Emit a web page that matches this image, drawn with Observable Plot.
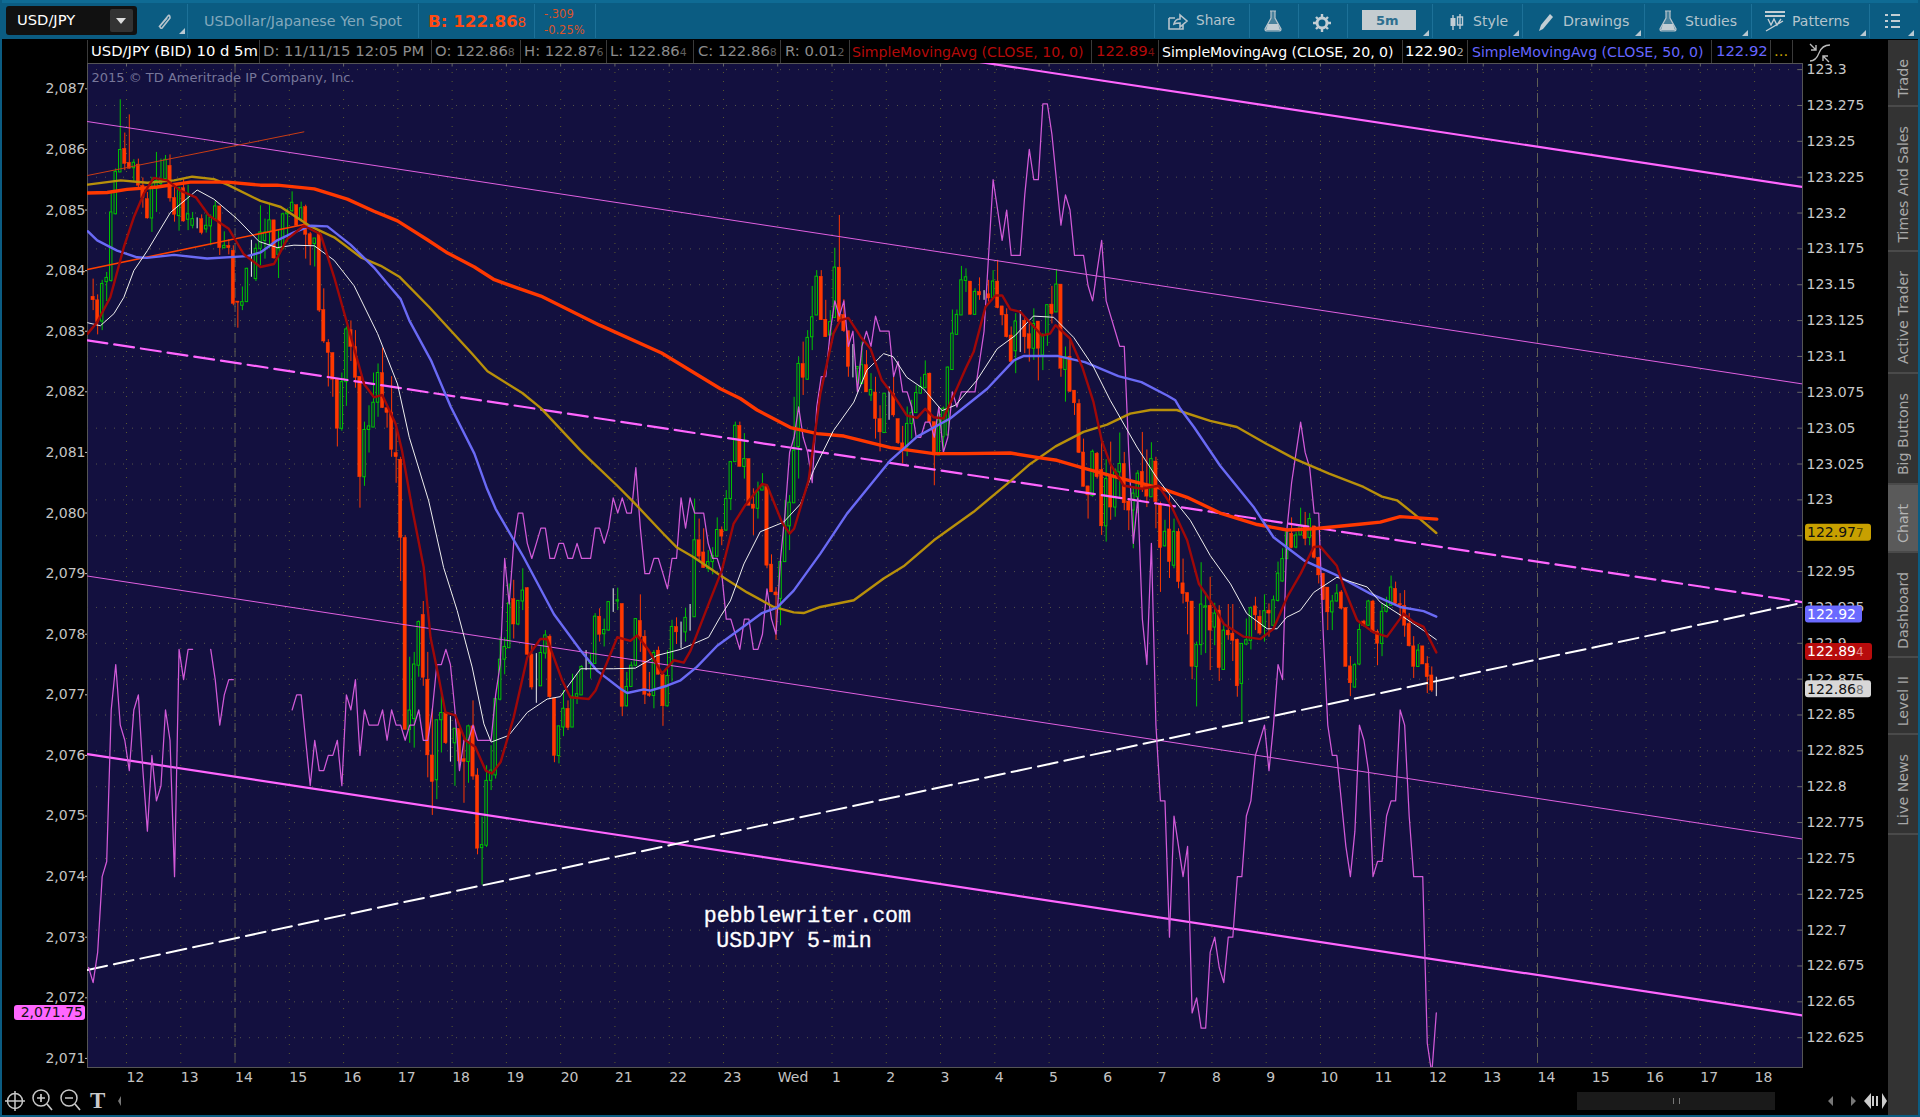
<!DOCTYPE html>
<html><head><meta charset="utf-8">
<script src="https://cdn.jsdelivr.net/npm/d3@7"></script>
<script src="https://cdn.jsdelivr.net/npm/@observablehq/plot@0.6"></script>
<style>
html,body{margin:0;padding:0;background:#000;width:1920px;height:1117px;overflow:hidden;font-family:"DejaVu Sans",sans-serif}
#page{position:relative;width:1920px;height:1117px;background:#000;overflow:hidden}
#plotHost{position:absolute;left:0;top:40px;width:1920px;height:1077px}
#plotHost svg{display:block;overflow:visible}
.t{position:absolute;white-space:nowrap;line-height:1}
.d{position:absolute;width:1px;background:#1d7198}
.c{position:absolute;top:40px;height:23px;width:1px;background:#3a3a3a}
.h{position:absolute;top:44px;font-size:14.8px;white-space:nowrap;line-height:1;color:#8b8b8b}
.h small{font-size:11px;color:#5f5f5f}
.tab{position:absolute;left:1888px;width:30px;display:flex;align-items:center;justify-content:center;padding-top:11px;border-bottom:2px solid #4a4a4a;box-sizing:border-box;background:#333}
.tab span{writing-mode:vertical-rl;transform:rotate(180deg);font-size:14.2px;color:#a8a8a8;white-space:nowrap}
.corner{position:absolute;width:0;height:0;border-left:6px solid transparent;border-bottom:6px solid #b9c9d2}
</style></head>
<body><div id="page">
<div style="position:absolute;left:0;top:0;width:1920px;height:39px;background:#0b5c82;border-top:3px solid #0f6b94;box-sizing:border-box"></div>
<div style="position:absolute;left:0;top:0;width:2px;height:1117px;background:#0b5c82"></div>
<div style="position:absolute;left:1918px;top:0;width:2px;height:1117px;background:#0b5c82"></div>
<div style="position:absolute;left:0;top:1115px;width:1920px;height:2px;background:#0b5c82"></div>

<div style="position:absolute;left:6px;top:6px;width:131px;height:29px;background:#111;border-radius:3px"></div>
<div style="position:absolute;left:110px;top:9px;width:23px;height:23px;background:#333;border-radius:2px"></div>
<div class="t" style="left:17px;top:13px;font-size:14.7px;color:#fff">USD/JPY</div>
<div style="position:absolute;left:116px;top:18px;border-left:5px solid transparent;border-right:5px solid transparent;border-top:6px solid #ddd"></div>
<svg style="position:absolute;left:155px;top:12px" width="18" height="18"><path d="M4 15 L13 4 Q15 2 15 6 L7 16 Q5 17 5 14 L12 6" fill="none" stroke="#b7c4cc" stroke-width="1.6"/></svg>
<div class="corner" style="left:179px;top:28px"></div>
<div class="d" style="left:187px;top:4px;height:34px"></div>
<div class="t" style="left:204px;top:14px;font-size:14.3px;color:#84a9bc">USDollar/Japanese Yen Spot</div>
<div class="d" style="left:418px;top:4px;height:34px"></div>
<div class="t" style="left:428px;top:13px;font-size:16.7px;font-weight:bold;color:#ff4a12">B: 122.86<span style="font-size:13.5px;font-weight:normal">8</span></div>
<div class="d" style="left:534px;top:4px;height:34px"></div>
<div class="t" style="left:544px;top:9px;font-size:11.5px;color:#d9532a">-.309</div>
<div class="t" style="left:544px;top:25px;font-size:11.5px;color:#d9532a">-0.25%</div>
<div class="d" style="left:595px;top:4px;height:34px"></div>

<div class="d" style="left:1154px;top:4px;height:34px"></div>
<svg style="position:absolute;left:1167px;top:13px" width="22" height="18"><path d="M2 5 H8 M2 5 V16 H16 V11 M7 11 Q8 6 13 6 V2 L20 8 L13 14 V10 Q9 10 7 11Z" fill="none" stroke="#b7c4cc" stroke-width="1.6"/></svg>
<div class="t" style="left:1196px;top:14px;font-size:13.6px;color:#b4c4cd">Share</div>
<div class="d" style="left:1249px;top:4px;height:34px"></div>
<svg style="position:absolute;left:1263px;top:10px" width="20" height="22"><path d="M7 1 H13 M8 1 V8 L2 19 Q2 21 4 21 H16 Q18 21 18 19 L12 8 V1" fill="#b7c4cc" stroke="#b7c4cc" stroke-width="1.2" fill-opacity=".35"/><path d="M5 14 H15 L17 20 H3Z" fill="#c3ced4"/></svg>
<div class="d" style="left:1298px;top:4px;height:34px"></div>
<svg style="position:absolute;left:1312px;top:13px" width="20" height="20"><circle cx="10" cy="10" r="5" fill="none" stroke="#c3ced4" stroke-width="3"/><path d="M10 1V4M10 16V19M1 10H4M16 10H19M4 4L6 6M14 14L16 16M16 4L14 6M4 16L6 14" stroke="#c3ced4" stroke-width="2.4"/></svg>
<div class="d" style="left:1347px;top:4px;height:34px"></div>
<div style="position:absolute;left:1362px;top:10px;width:54px;height:20px;background:#c4ccd0"></div>
<div class="t" style="left:1376px;top:14px;font-size:13px;font-weight:bold;color:#2f6f8f">5m</div>
<div class="corner" style="left:1423px;top:30px"></div>
<div class="d" style="left:1432px;top:4px;height:34px"></div>
<svg style="position:absolute;left:1449px;top:13px" width="16" height="18"><path d="M4 2V17M11 1V16" stroke="#c3ced4" stroke-width="1.4"/><rect x="1.5" y="5" width="5" height="8" fill="#c3ced4"/><rect x="8.5" y="4" width="5" height="8" fill="none" stroke="#c3ced4" stroke-width="1.4"/></svg>
<div class="t" style="left:1473px;top:14px;font-size:14px;color:#b4c4cd">Style</div>
<div class="corner" style="left:1513px;top:30px"></div>
<div class="d" style="left:1522px;top:4px;height:34px"></div>
<svg style="position:absolute;left:1537px;top:12px" width="18" height="20"><path d="M2 19 L4 13 L13 2 L16 5 L6 17Z" fill="#c3ced4"/></svg>
<div class="t" style="left:1563px;top:14px;font-size:14.2px;color:#b4c4cd">Drawings</div>
<div class="corner" style="left:1635px;top:30px"></div>
<div class="d" style="left:1644px;top:4px;height:34px"></div>
<svg style="position:absolute;left:1658px;top:10px" width="20" height="22"><path d="M7 1 H13 M8 1 V8 L2 19 Q2 21 4 21 H16 Q18 21 18 19 L12 8 V1" fill="#b7c4cc" stroke="#b7c4cc" stroke-width="1.2" fill-opacity=".35"/><path d="M5 14 H15 L17 20 H3Z" fill="#c3ced4"/></svg>
<div class="t" style="left:1685px;top:14px;font-size:14px;color:#b4c4cd">Studies</div>
<div class="corner" style="left:1742px;top:30px"></div>
<div class="d" style="left:1751px;top:4px;height:34px"></div>
<svg style="position:absolute;left:1764px;top:10px" width="22" height="22"><path d="M1 2H21M1 6H21" stroke="#c3ced4" stroke-width="2"/><path d="M4 9 L7 15 L10 9 L13 15 L17 9 M2 21 L19 11" fill="none" stroke="#c3ced4" stroke-width="1.4"/></svg>
<div class="t" style="left:1792px;top:14px;font-size:14px;color:#b4c4cd">Patterns</div>
<div class="corner" style="left:1860px;top:30px"></div>
<div class="d" style="left:1869px;top:4px;height:34px"></div>
<svg style="position:absolute;left:1885px;top:13px" width="16" height="16"><path d="M0 2H3M6 2H15M0 8H3M6 8H15M0 14H3M6 14H15" stroke="#c3ced4" stroke-width="2"/></svg>
<div class="corner" style="left:1908px;top:30px"></div>

<div id="plotHost"></div>

<div class="h" style="left:91px;color:#fff">USD/JPY (BID) 10 d 5m</div>
<div class="c" style="left:87px"></div><div class="c" style="left:259px"></div>
<div class="h" style="left:263px">D: 11/11/15 12:05 PM</div><div class="c" style="left:431px"></div>
<div class="h" style="left:435px">O: 122.86<small>8</small></div><div class="c" style="left:520px"></div>
<div class="h" style="left:524px">H: 122.87<small>6</small></div><div class="c" style="left:606px"></div>
<div class="h" style="left:610px">L: 122.86<small>4</small></div><div class="c" style="left:693px"></div>
<div class="h" style="left:698px">C: 122.86<small>8</small></div><div class="c" style="left:780px"></div>
<div class="h" style="left:785px">R: 0.01<small>2</small></div><div class="c" style="left:849px"></div>
<div class="h" style="left:852px;color:#b50a0a;font-size:14.1px;top:45px">SimpleMovingAvg (CLOSE, 10, 0)</div><div class="c" style="left:1091px"></div>
<div class="h" style="left:1096px;color:#b50a0a">122.89<small style="color:#7a1010">4</small></div><div class="c" style="left:1158px"></div>
<div class="h" style="left:1162px;color:#fff;font-size:14.1px;top:45px">SimpleMovingAvg (CLOSE, 20, 0)</div><div class="c" style="left:1402px"></div>
<div class="h" style="left:1405px;color:#fff">122.90<small style="color:#aaa">2</small></div><div class="c" style="left:1467px"></div>
<div class="h" style="left:1472px;color:#6666ff;font-size:14.1px;top:45px">SimpleMovingAvg (CLOSE, 50, 0)</div><div class="c" style="left:1711px"></div>
<div class="h" style="left:1716px;color:#6666ff">122.92</div><div class="c" style="left:1770px"></div>
<div class="h" style="left:1774px;color:#c8a000">...</div><div class="c" style="left:1792px"></div>
<svg style="position:absolute;left:1808px;top:42px" width="24" height="22"><path d="M2 19 Q8 19 11 11 Q14 3 22 3" fill="none" stroke="#bbb" stroke-width="1.3"/><path d="M2 2 L8 8 M8 3V8H3 M21 20 L15 14 M15 19V14H20" fill="none" stroke="#bbb" stroke-width="1.4"/></svg>

<div class="tab" style="top:40px;height:67px"><span>Trade</span></div>
<div class="tab" style="top:107px;height:145px"><span>Times And Sales</span></div>
<div class="tab" style="top:252px;height:122px"><span>Active Trader</span></div>
<div class="tab" style="top:374px;height:111px"><span>Big Buttons</span></div>
<div class="tab" style="top:485px;height:68px;background:#5a5a5a"><span style="color:#b5b5b5">Chart</span></div>
<div class="tab" style="top:553px;height:105px"><span>Dashboard</span></div>
<div class="tab" style="top:658px;height:77px"><span>Level II</span></div>
<div class="tab" style="top:735px;height:100px"><span>Live News</span></div>
<div style="position:absolute;left:1888px;top:835px;width:30px;height:280px;background:#333"></div>

<svg style="position:absolute;left:0;top:1085px" width="140" height="30">
 <g fill="none" stroke="#c8c8c8" stroke-width="1.5"><circle cx="15" cy="16" r="7.5"/><path d="M15 6V26M5 16H25"/>
 <circle cx="41" cy="13" r="8"/><path d="M47 19L52 25M37 13H45M41 9V17" stroke-width="1.7"/>
 <circle cx="69" cy="13" r="8"/><path d="M75 19L80 25M65 13H73" stroke-width="1.7"/></g>
 <text x="90" y="23" font-family="Liberation Serif" font-weight="bold" font-size="23" fill="#c8c8c8">T</text>
 <path d="M121 11V21L118 16Z" fill="#777"/>
</svg>
<div style="position:absolute;left:1577px;top:1092px;width:198px;height:18px;background:#1a1a1a"></div>
<div style="position:absolute;left:1673px;top:1098px;width:7px;height:6px;border-left:1px solid #777;border-right:1px solid #777;box-sizing:border-box"></div>
<svg style="position:absolute;left:1825px;top:1090px" width="62" height="22">
 <path d="M8 6V16L3 11Z M26 6V16L31 11Z" fill="#777"/>
 <path d="M46 3V19L39 11Z M57 3V19L62 11Z" fill="#ccc"/><path d="M48 6V16M52 6V16" stroke="#ccc" stroke-width="2"/>
</svg>
</div>
<script>
// Candles: price minus 2000, one entry per 5-minute bar
const priceBase = 2000;
const candleOpen = [
83.57,83.51,83.16,83.81,83.83,84.93,85.62,86.01,85.78,85.69,
85.75,85.40,85.18,84.86,85.35,85.43,85.51,85.73,85.20,84.90,
85.36,84.84,84.74,84.80,84.85,84.68,84.73,84.85,85.06,84.37,
84.41,84.33,83.49,83.42,83.48,84.03,83.86,84.36,84.49,84.63,
84.83,84.26,84.36,84.93,84.98,85.08,84.84,85.05,84.60,84.44,
84.60,83.35,82.81,82.64,82.20,81.39,82.16,83.02,82.74,82.25,
80.59,81.37,81.41,81.82,82.31,81.73,81.66,80.99,80.88,79.59,
76.42,76.60,77.48,78.32,77.25,76.00,75.59,76.58,76.70,76.22,
76.20,76.44,75.94,75.89,76.48,75.67,74.47,74.51,75.58,75.67,
76.92,77.58,77.77,78.58,78.16,78.54,78.76,77.66,77.15,77.14,
77.68,77.96,76.94,75.99,76.46,76.77,76.46,76.96,76.99,77.53,
77.51,77.51,78.29,78.00,78.06,78.54,78.54,78.50,76.81,77.13,
77.48,78.22,77.96,77.01,76.98,77.73,77.33,76.81,77.52,78.12,
78.03,78.03,78.28,78.28,79.55,79.35,79.08,79.19,79.28,79.72,
79.71,80.23,80.84,81.44,80.76,80.89,80.14,80.07,80.37,80.43,
79.15,78.69,78.58,79.19,79.78,80.16,81.09,82.46,82.20,82.90,
83.26,83.90,83.19,82.93,83.22,84.05,83.27,83.00,82.41,82.38,
82.13,82.44,81.94,81.99,81.55,81.32,81.87,81.97,81.55,81.15,
81.09,81.47,81.65,81.97,82.06,82.30,81.50,80.95,81.25,81.28,
82.36,82.94,83.26,83.83,83.82,83.27,83.65,83.59,83.61,83.55,
83.82,83.41,83.27,82.93,82.67,83.17,83.17,82.95,82.71,83.16,
82.60,82.93,83.44,83.31,83.77,82.36,82.58,82.02,81.80,81.00,
80.44,80.28,80.98,80.71,79.78,80.62,80.09,80.67,80.81,80.19,
80.04,80.26,80.68,80.43,80.26,80.85,80.15,79.45,79.73,79.13,
79.69,78.84,78.68,78.54,77.46,77.82,78.44,78.47,78.11,78.39,
77.41,78.06,78.01,77.91,77.18,77.83,77.89,78.46,78.29,78.12,
78.39,78.14,78.55,78.87,79.24,79.66,79.43,79.63,79.79,79.59,
79.78,79.26,79.00,78.77,78.36,78.54,78.69,78.43,77.47,77.12,
77.50,78.21,78.14,78.54,78.04,77.84,78.37,78.47,78.75,78.50,
78.47,78.17,77.80,77.46,77.80,77.51,77.32,77.08];
const candleHigh = [
83.86,83.60,83.84,83.97,85.27,85.68,86.82,86.27,86.57,85.83,
85.84,85.53,85.29,85.54,85.95,85.84,85.90,85.91,85.43,85.36,
85.51,85.41,84.96,84.87,84.92,84.92,84.92,85.14,85.06,84.64,
84.51,84.41,83.49,83.73,84.04,84.50,84.44,85.07,84.85,85.10,
84.83,84.66,84.95,85.02,85.30,85.08,85.13,85.08,84.63,84.53,
84.66,83.70,82.86,82.64,82.20,82.31,83.07,83.17,83.01,82.25,
81.50,81.77,82.31,82.46,82.72,81.74,82.25,81.39,80.92,79.63,
77.62,77.70,78.22,78.54,77.70,76.77,76.58,77.02,76.71,76.64,
76.44,76.44,76.30,76.50,76.90,75.78,74.98,75.83,76.16,76.93,
77.95,77.94,78.83,78.89,78.55,79.08,78.77,77.81,77.68,77.81,
78.06,77.99,76.94,76.48,77.07,76.90,77.34,77.34,77.48,77.73,
77.68,78.34,78.42,78.25,78.54,78.75,78.76,78.50,77.37,77.54,
78.25,78.65,78.06,77.37,77.73,77.79,77.35,77.73,78.23,78.27,
78.20,78.43,78.49,80.23,79.90,79.74,79.38,79.43,79.92,79.77,
80.37,80.85,81.50,81.50,81.31,80.89,80.40,80.51,80.65,80.45,
79.31,78.77,79.24,80.21,80.29,81.91,82.57,82.82,83.01,83.74,
84.00,84.00,83.51,83.34,84.37,84.91,83.52,83.00,82.78,82.41,
82.82,82.68,82.30,82.24,81.77,81.97,82.08,82.30,81.55,81.43,
81.75,81.86,82.10,82.24,82.51,82.31,81.50,81.68,81.75,82.41,
83.35,83.35,84.07,84.03,83.82,83.70,83.88,83.67,83.84,84.00,
84.17,83.41,83.37,83.07,83.29,83.34,83.23,83.12,83.37,83.16,
82.96,83.43,83.74,84.02,83.77,82.74,82.85,82.02,81.87,81.22,
80.44,81.04,81.00,81.20,80.88,81.17,80.73,81.32,81.00,80.21,
80.43,80.70,81.33,81.04,81.16,80.92,80.18,79.88,80.29,79.90,
79.74,79.24,78.68,78.54,77.87,79.18,78.69,78.94,78.51,78.47,
78.14,78.49,78.49,77.92,77.84,78.25,78.45,78.61,78.39,78.65,
78.50,78.63,79.19,79.41,79.71,79.92,79.68,80.08,80.01,79.99,
79.78,79.27,79.00,78.77,78.64,78.82,78.72,78.44,77.63,77.52,
78.17,78.23,78.56,78.56,78.07,78.50,78.61,78.96,78.86,78.67,
78.72,78.34,77.96,77.83,77.80,77.63,77.46,77.29];
const candleLow = [
83.34,82.94,83.01,83.49,83.81,84.92,85.62,85.65,85.68,85.47,
85.36,85.03,84.85,84.63,84.96,85.37,85.48,85.13,84.80,84.65,
84.80,84.66,84.69,84.69,84.59,84.62,84.41,84.84,84.25,84.36,
84.26,83.42,83.05,83.34,83.48,83.89,83.82,84.08,84.19,84.36,
84.19,83.87,84.34,84.47,84.96,84.74,84.80,84.19,84.08,84.06,
83.31,82.80,82.08,81.91,81.09,81.35,81.76,82.50,82.06,80.08,
80.44,80.99,81.41,81.58,81.73,81.40,80.92,80.49,78.87,76.42,
76.20,76.12,77.29,77.14,75.63,75.01,75.27,76.04,76.18,75.89,
75.49,75.75,75.21,75.54,75.59,74.36,73.86,74.48,75.42,75.61,
76.90,77.33,77.76,77.92,78.14,78.39,77.65,77.08,76.86,77.14,
77.59,76.93,75.88,75.86,76.31,76.41,76.46,76.84,76.99,77.40,
77.26,77.51,77.87,77.79,78.05,78.36,78.39,76.64,76.80,77.13,
77.46,77.70,76.84,76.96,76.77,77.33,76.48,76.80,77.21,77.83,
77.76,77.87,78.05,78.28,79.21,79.09,79.02,78.98,79.27,79.46,
79.70,80.04,80.84,80.76,80.56,80.12,79.63,79.90,80.37,79.08,
78.69,77.90,78.14,79.19,79.38,80.16,80.56,81.94,82.19,82.68,
83.26,83.18,82.90,82.93,83.22,83.15,82.98,82.24,82.23,82.05,
82.13,81.99,81.84,81.22,81.01,81.32,81.53,81.58,81.13,80.81,
80.93,81.22,81.64,81.96,82.05,81.46,80.45,80.95,81.03,81.28,
82.35,82.93,83.26,83.64,83.27,83.26,83.51,83.51,83.48,83.53,
83.37,83.09,82.89,82.49,82.30,82.65,82.63,82.49,82.52,82.18,
82.35,82.75,83.12,83.31,82.24,81.83,81.99,81.61,80.98,80.43,
79.90,80.26,80.56,79.63,79.52,79.88,79.93,80.26,80.04,79.71,
79.41,79.99,80.34,80.09,80.26,79.74,78.69,79.44,78.92,79.08,
78.75,78.50,77.99,77.25,76.80,77.65,77.68,77.40,77.81,77.22,
77.41,77.90,77.55,76.96,76.55,77.81,77.74,78.06,77.98,77.87,
77.95,78.12,78.53,78.86,79.23,79.41,79.41,79.63,79.46,79.46,
79.24,78.83,78.56,78.06,78.06,78.53,78.40,77.46,76.97,77.11,
77.48,78.12,78.13,78.02,77.48,77.63,78.35,78.46,78.49,78.28,
77.95,77.79,77.27,77.45,77.50,77.02,77.04,76.97];
const candleClose = [
83.51,83.15,83.78,83.88,84.96,85.63,85.99,85.76,85.68,85.78,
85.40,85.20,84.86,85.37,85.48,85.48,85.83,85.19,84.92,85.36,
84.81,84.93,84.85,84.80,84.62,84.74,84.87,85.06,84.37,84.41,
84.37,83.45,83.47,83.48,84.03,84.03,84.36,84.63,84.63,84.83,
84.20,84.36,84.93,84.96,85.12,84.74,85.03,84.59,84.42,84.53,
83.34,82.83,82.64,82.20,81.39,82.16,83.03,82.74,82.23,80.59,
81.37,81.43,81.82,82.31,81.73,81.65,81.04,80.92,79.59,76.42,
76.74,77.50,78.20,77.28,76.00,75.56,76.58,76.70,76.20,76.22,
76.44,75.90,75.89,76.48,75.65,74.46,74.52,75.58,75.75,76.93,
77.58,77.79,78.51,78.16,78.55,78.72,77.66,77.12,77.15,77.69,
77.98,76.96,75.99,76.48,76.77,76.45,76.97,77.01,77.46,77.53,
77.53,78.29,77.99,78.07,78.53,78.54,78.56,76.80,77.13,77.48,
78.25,77.95,77.00,76.98,77.69,77.33,76.81,77.31,78.12,78.03,
78.03,78.27,78.28,79.55,79.28,79.09,79.19,79.29,79.72,79.61,
80.23,80.84,81.44,80.76,80.89,80.12,80.07,80.34,80.44,79.13,
78.69,78.64,79.19,79.79,80.17,81.03,82.46,82.23,82.89,83.23,
83.90,83.18,82.90,83.15,84.05,83.15,83.00,82.41,82.41,82.41,
82.44,81.99,82.03,81.55,81.33,81.97,81.87,81.61,81.15,81.03,
81.47,81.65,81.98,82.08,82.28,81.50,80.95,81.53,81.72,82.40,
82.96,83.27,83.84,83.89,83.27,83.65,83.59,83.59,83.54,83.82,
83.38,83.26,82.90,82.49,83.16,83.17,82.90,82.71,83.12,82.71,
82.93,83.43,83.28,83.77,82.38,82.57,82.00,81.81,80.99,80.43,
80.29,81.01,80.59,79.78,80.56,80.09,80.70,80.81,80.16,80.04,
80.32,80.65,80.40,80.27,80.89,80.18,79.42,79.69,79.19,79.69,
78.86,78.66,78.53,77.46,77.82,78.49,78.46,78.06,78.34,77.44,
78.06,77.98,77.89,77.14,77.84,77.90,78.43,78.31,78.01,78.38,
78.34,78.56,79.00,79.24,79.68,79.42,79.63,79.79,79.57,79.90,
79.26,78.97,78.56,78.36,78.54,78.67,78.42,77.46,77.19,77.49,
78.07,78.14,78.54,78.03,77.84,78.37,78.47,78.77,78.50,78.47,
78.14,77.80,77.46,77.73,77.50,77.29,77.07,77.08];

// Pink comparison symbol (reads on the left axis), starting one bar before the first candle
const pinkStart = -1;
const pinkValues = [
72.5,72.25,72.75,74,74.25,76.75,77.5,76.5,76.25,75.75,76.75,77,75.75,74.75,76,75.25,75.5,76.75,76.25,74,77.75,77.25,77.75,77.75,
null,null,null,
77.75,77.25,76.5,77,77.25,77.25,
null,null,null,null,null,null,null,null,null,null,null,null,
76.75,77,77,76.25,75.5,76.25,75.75,75.75,76,76,76.25,75.5,77,76.75,77.25,76,76.75,76.5,76.5,76.5,76.75,76.25,76.75,76.5,76.5,76.25,76.5,76.5,76.75,76.25,76.25,76.75,77.5,77.5,77.75,77.5,76.75,75.75,76.25,76.25,76.5,76.25,76.25,76.25,76.25,77,77.5,79.25,78.5,79.5,80,80,79.5,79.25,79.5,79.75,79.75,79.25,79.25,79.5,79.5,79.25,79.25,79.5,79.25,79.25,79.25,79.75,79.75,79.5,79.75,80.25,80,80.25,80,80,80.75,79.75,79,79,79.25,79.25,79,78.75,79.25,79.25,80.25,79.75,80.25,80,80,80,79.5,79.25,79.25,
79,78.25,78.25,78,77.75,78.25,78.25,77.75,77.75,78,78.75,78.25,78,79.25,80,81,81.25,81.75,81.25,81,80.5,81.75,82.25,82.25,83,83.5,83.25,83.5,82.75,83,82,82.75,83,82.75,83.25,83,83,83,82.25,82.5,82,82,81.75,81.25,81.25,81.5,81.5,81.25,81.75,81,81.25,82,81.75,82,82,82,82,82.5,83,
84.25,85.5,85,84.5,85,84.25,84.25,84.25,85.25,86,85.5,85.5,86.75,86.75,86.25,85.5,84.75,85.25,85,84.25,84.25,84.25,83.75,83.5,84,84.5,83.5,83.25,83,82.75,82.75,81,79.5,80.25,78.25,77.5,79.5,76.5,
75.25,75.25,73,75,74.5,74,74.5,71.75,72,71.5,71.5,72.75,73,72.5,72.25,73,73,74,74,75,75.25,76,76.25,76.5,75.75,76.5,77.5,77.25,79.75,80.5,81,81.5,81,80.75,80,80,78,76.5,76,76,
75.25,74.5,74,74.75,76.5,76.25,75.75,74,74.25,74.25,75,75.25,75.25,76.75,76.5,75,74,74,74,71.25,70.75,71.75];

// Moving averages, read at sampled bars
const sma10Bars = [-1.2,0.9,3.8,6.8,9,11.2,13.4,16.4,19.3,22.7,25.6,30,33.3,37,40,42.9,46.6,50.3,53.3,56.2,59.9,62.1,63.9,66.9,68.3,70.5,73.1,74.6,76.4,77.9,80.1,82.3,84.5,86.8,88.2,90.1,93,96,98.9,100.4,103.7,105.5,109.6,111.1,115.9,118.8,120.3,122.9,125.8,128.4,130.6,132.1,136.1,139,141.6,144.2,147.9,149,152.3,154,155,158.2,160.8,163.7,165.2,167,169.7,171.9,174.4,177,179.9,182.2,184,185.9,188,190.3,192.9,194.7,197.3,199.5,201,202.8,205,207.2,209.8,211.6,212.8,216,218.7,221.2,223,224.9,227.9,231.9,235.6,238.2,241.9,244.5,247.8,250,254.4,258.1,261,264,267,269.9,271.3,275,276.5,279.5,283.1,286.1,289.8,292,294.2,297];
const sma10Values = [82.96,83.15,83.56,84.39,84.88,85.27,85.53,85.49,85.32,85.21,84.91,84.69,84.27,84.06,84.11,84.52,84.74,84.60,83.89,83.12,82.13,81.91,81.95,81.47,81.03,80.09,79.1,77.95,77.29,76.71,76.66,76.25,76.14,75.75,75.70,75.89,76.63,77.62,77.92,77.92,77.24,76.96,76.93,77.07,77.95,77.89,77.98,77.73,77.35,77.57,77.53,77.73,78.5,79.05,79.82,80.13,80.48,80.46,79.85,79.66,79.74,80.54,81.97,82.96,83.18,83.22,82.91,82.71,82.19,81.94,81.61,81.57,81.72,81.58,81.56,81.94,82.38,82.66,83.40,83.59,83.59,83.36,83.32,83.14,82.93,82.96,83.10,82.88,82.41,81.83,81.20,80.81,80.45,80.40,80.45,80.15,79.55,78.83,78.47,78.17,77.96,77.92,78.09,78.61,79.0,79.44,79.45,79.13,78.78,78.23,78.03,77.96,78.34,78.20,78.12,77.70];
const sma20Bars = [-1.2,1.6,4.6,6.8,9,12,17.1,23,26.7,31.9,36.7,40.7,44.4,48.9,53.3,57.7,62.9,67.3,69.9,74.2,77.5,80.5,83.8,86.4,88,91.9,96,100.4,103.3,107.8,111.4,115.1,119.9,124.7,129.9,136.1,138.7,140.9,143.9,147.5,152.7,156.4,159.3,163.7,168.2,171.1,174.8,176.9,179.9,183.6,187.7,190.7,195.4,199.9,203.9,207.9,212.4,216.8,221.2,224.9,230.8,235.2,238.2,242.6,247,251.5,255.1,259.6,261.8,263.9,266.9,269.9,275,281.7,284.6,289.8,294.2,297];
const sma20Values = [83.14,83.09,83.29,83.56,84.0,84.33,84.96,85.33,85.18,84.85,84.48,84.38,84.42,84.41,84.17,83.75,82.96,82.13,81.25,80.2,79.1,78.39,77.46,76.52,76.22,76.33,76.71,76.93,76.97,77.43,77.43,77.43,77.44,77.65,77.75,77.95,78.29,78.55,79.16,79.69,79.85,80.15,80.70,81.36,81.83,82.36,82.63,82.58,82.24,82.05,81.69,81.78,82.19,82.71,82.93,83.25,83.23,82.90,82.41,81.86,81.09,80.58,80.29,79.88,79.30,78.83,78.34,78.09,78.09,78.28,78.39,78.69,78.94,78.78,78.53,78.28,78.06,77.91];
const sma50Bars = [-1.2,0.9,5.3,9.7,11.9,17.9,25.2,34.1,37,40.7,44.4,48.1,51.8,56.9,62.1,65.8,68,69.9,74.7,79.1,84.3,87.1,89,95.2,101.9,107.8,111.4,116.6,118.1,121.8,123.2,126.9,129.9,133.5,138,144.6,147.9,151.2,154.9,160.8,166.7,176.3,182.2,189.5,197.7,203.6,205.7,213.4,219.3,226.7,231.8,237.5,239.3,240.4,243.4,249.2,256.6,261,267.7,275,282.4,289,294.2,297];
const sma50Values = [84.65,84.50,84.33,84.22,84.21,84.26,84.20,84.24,84.30,84.50,84.63,84.74,84.73,84.43,84.05,83.72,83.53,83.18,82.52,81.75,80.98,80.40,80.07,79.27,78.33,77.73,77.40,77.10,77.03,77.09,77.07,77.15,77.24,77.46,77.81,78.17,78.35,78.44,78.72,79.33,79.99,80.87,81.26,81.56,82.05,82.52,82.59,82.59,82.49,82.26,82.16,81.94,81.86,81.72,81.42,80.78,80.10,79.6,79.22,78.97,78.67,78.45,78.38,78.29];
const sma100Bars = [-1.2,3.1,7.5,14.2,21.5,29.7,37,40.7,48.9,56.2,62.1,67.3,73.9,78.4,84.3,88.7,93.9,99,112,125.7,138.7,143.1,146.8,154.2,160.1,166,176.3,185.9,192.5,202.8,209.4,213.1,219,227.9,236,241.9,249.2,257.4,264,269.9,279.5,284.6,289,297.1];
const sma100Values = [85.28,85.29,85.34,85.38,85.46,85.46,85.41,85.41,85.35,85.18,84.98,84.82,84.51,84.29,84.06,83.85,83.71,83.58,83.10,82.64,82.05,81.89,81.70,81.41,81.31,81.27,81.08,80.98,80.98,80.99,80.91,80.87,80.74,80.56,80.41,80.26,80.00,79.81,79.72,79.74,79.81,79.85,79.94,79.90];
const sma200Bars = [-1.2,6.1,12,17.9,21.9,26.7,29.7,37,41.5,48.1,53.3,59.2,63.6,67.7,74.3,83.9,87.2,94.9,99,107.8,110,115.9,119.5,126.2,129.1,132.8,138.7,144.6,150.5,154.9,157.1,160.8,168.2,174.8,179.2,185.9,194.7,202.1,207.2,212.8,219,224.2,229.3,233.8,239.6,247,252.9,259.5,265.8,273.3,280.9,285,288.3,292,297];
const sma200Values = [85.42,85.49,85.45,85.49,85.55,85.51,85.42,85.15,85.05,84.73,84.55,84.22,84.08,83.90,83.40,82.62,82.34,81.98,81.73,81.03,80.87,80.45,80.18,79.65,79.43,79.27,78.97,78.69,78.45,78.36,78.35,78.45,78.56,78.92,79.12,79.55,80.02,80.48,80.81,81.10,81.34,81.46,81.64,81.70,81.70,81.52,81.42,81.14,80.89,80.65,80.43,80.27,80.21,79.99,79.67];

// Drawn trend lines: [value at first bar, value at last bar]
const firstBar = -1.245, lastBar = 377.97;
const channelTopThick = [89.68,85.38];
const channelTopThin = [86.46,82.13];
const channelMidDashed = [82.85,78.53];
const channelLowThin = [78.96,74.62];
const channelLowThick = [76.02,71.71];
const supportDashed = [72.46,78.52];
const shortOrangeThin = {bars:[-1.245,46.6], values:[85.57,86.29]};
const shortOrangeThick = {bars:[-1.245,46.6], values:[84.02,84.76]};

const leftTicks = d3.range(2071,2088);
const rightTicks = ["123.3","123.275","123.25","123.225","123.2","123.175","123.15","123.125","123.1","123.075","123.05","123.025","123","122.975","122.95","122.925","122.9","122.875","122.85","122.825","122.8","122.775","122.75","122.725","122.7","122.675","122.65","122.625"];
const hourLabels = ["12","13","14","15","16","17","18","19","20","21","22","23","Wed","1","2","3","4","5","6","7","8","9","10","11","12","13","14","15","16","17","18"];
const sessionHours = [2,26];
const firstHourBar = 7.38, barsPerHour = 12;
const priceTags = [
 {r:122.977,main:"122.97",tail:"7",bg:"#c8a000",fg:"#111",tailFg:"#5b4a00",w:66},
 {r:122.92,main:"122.92",tail:"",bg:"#6a6aff",fg:"#fff",tailFg:"#fff",w:57},
 {r:122.894,main:"122.89",tail:"4",bg:"#b80c0c",fg:"#fff",tailFg:"#e58a8a",w:67},
 {r:122.868,main:"122.86",tail:"8",bg:"#d8d8d8",fg:"#111",tailFg:"#777",w:66}
];
const lastPink = 2071.75;

// Right axis (USD/JPY) expressed on the left axis
const toLeft = r => 2080.217 - (123 - r) * 23.667;
const hourBar = k => firstHourBar + barsPerHour * k;

const candles = candleOpen.map((o,i)=>{
  const c=candleClose[i];
  return {i,o:priceBase+o,c:priceBase+c,h:priceBase+candleHigh[i],l:priceBase+candleLow[i],kind:c>o?"up":c<o?"down":"flat"};
});
const ofKind = k => candles.filter(d=>d.kind===k);
const wickColor = {up:"#00c400",down:"#ff3800",flat:"#f0f0f0"};
const series = (bars,vals)=>bars.map((b,k)=>({b,v:priceBase+vals[k]}));
const pink = pinkValues.map((v,k)=>({b:pinkStart+k,v:v==null?null:priceBase+v}));
const seg = a=>[{b:firstBar,v:priceBase+a[0]},{b:lastBar,v:priceBase+a[1]}];
const shortSeg = s=>series(s.bars,s.values);
const dataLine=(d,o)=>Plot.line(d,{x:"b",y:"v",clip:true,...o});

function tagsMark(_i,scales){
  const g=d3.create("svg:g");
  const xr=scales.x(lastBar);
  for(const t of priceTags){
    const y=scales.y(toLeft(t.r));
    g.append("rect").attr("x",xr+3).attr("y",y-8.5).attr("width",t.w).attr("height",17).attr("rx",3).attr("fill",t.bg);
    const tx=g.append("text").attr("x",xr+5).attr("y",y+5).attr("text-anchor","start").attr("font-size",14).attr("font-family","DejaVu Sans").attr("fill",t.fg).text(t.main);
    if(t.tail) tx.append("tspan").attr("font-size",12).attr("fill",t.tailFg).text(t.tail);
  }
  const yp=scales.y(lastPink);
  const xl=scales.x(firstBar);
  g.append("rect").attr("x",14).attr("y",yp-7.5).attr("width",xl-2-14).attr("height",15).attr("rx",3).attr("fill","#ff66ff");
  g.append("text").attr("x",xl-4).attr("y",yp+5).attr("text-anchor","end").attr("font-size",14).attr("font-family","DejaVu Sans").attr("fill","#111").text(d3.format(",.2f")(lastPink));
  return g.node();
}

const dot="1,8";
const chart = Plot.plot({
  width:1920,height:1077,marginTop:23,marginBottom:50,marginLeft:87,marginRight:118,
  style:{background:"transparent",fontFamily:"DejaVu Sans",fontSize:"14px",overflow:"visible"},
  x:{type:"linear",domain:[firstBar,lastBar],axis:null},
  y:{type:"linear",domain:[2070.85,2087.418],axis:null},
  marks:[
    Plot.frame({fill:"#13103f",stroke:"#555555"}),
    Plot.ruleY(rightTicks,{y:d=>toLeft(+d),stroke:"#55544a",strokeDasharray:dot}),
    Plot.ruleX(hourLabels,{x:(d,k)=>hourBar(k),stroke:"#5a5a30",strokeDasharray:dot}),
    Plot.ruleX(hourLabels,{x:(d,k)=>hourBar(k),y1:2087.418,y2:2087.36,stroke:"#666"}),
    Plot.ruleX(sessionHours,{x:hourBar,stroke:"#5f5f55",strokeDasharray:"9,6"}),
    Plot.ruleY(rightTicks,{y:d=>toLeft(+d),x1:lastBar-0.9,x2:lastBar,stroke:"#666"}),
    Plot.axisY({ticks:leftTicks,tickFormat:d3.format(","),tickSize:2,tickPadding:0,color:"#c4c4c4",fontSize:14,label:null}),
    Plot.text(rightTicks,{x:()=>lastBar,y:d=>toLeft(+d),text:d=>d,textAnchor:"start",dx:4,fill:"#c8c8c8",fontSize:14}),
    Plot.text(hourLabels,{x:(d,k)=>hourBar(k),frameAnchor:"bottom",lineAnchor:"top",dy:5,dx:0,textAnchor:"start",fill:"#c4c4c4",fontSize:14,text:d=>d}),
    Plot.text(["2015 © TD Ameritrade IP Company, Inc."],{frameAnchor:"top-left",dx:4,dy:9,fill:"#77779a",fontSize:13,text:d=>d}),

    // candles
    Plot.ruleX(candles,{x:"i",y1:"l",y2:"h",stroke:d=>wickColor[d.kind],strokeWidth:1,clip:true}),
    Plot.rect(ofKind("up"),{x1:d=>d.i-0.27,x2:d=>d.i+0.27,y1:"o",y2:"c",fill:"#13103f",stroke:wickColor.up,strokeWidth:1,clip:true}),
    Plot.rect(ofKind("down"),{x1:d=>d.i-0.37,x2:d=>d.i+0.37,y1:"o",y2:"c",fill:wickColor.down,stroke:wickColor.down,strokeWidth:0.4,clip:true}),
    Plot.rect(ofKind("flat"),{x1:d=>d.i-0.37,x2:d=>d.i+0.37,y1:"o",y2:"c",stroke:wickColor.flat,strokeWidth:1,clip:true}),

    // drawn lines
    dataLine(seg(channelTopThick),{stroke:"#ff66ff",strokeWidth:2.2}),
    dataLine(seg(channelLowThick),{stroke:"#ff66ff",strokeWidth:2.2}),
    dataLine(seg(channelTopThin),{stroke:"#e060e0",strokeWidth:1}),
    dataLine(seg(channelLowThin),{stroke:"#e060e0",strokeWidth:1}),
    dataLine(seg(channelMidDashed),{stroke:"#ff66ff",strokeWidth:2.2,strokeDasharray:"20,7"}),
    dataLine(seg(supportDashed),{stroke:"#ffffff",strokeWidth:2,strokeDasharray:"20,7"}),
    dataLine(shortSeg(shortOrangeThin),{stroke:"#c83c14",strokeWidth:1}),
    dataLine(shortSeg(shortOrangeThick),{stroke:"#ff4000",strokeWidth:1.6}),

    // pink comparison line
    dataLine(pink,{stroke:"#d25ad8",strokeWidth:1.25}),

    // moving averages
    dataLine(series(sma200Bars,sma200Values),{stroke:"#b8900a",strokeWidth:2.4}),
    dataLine(series(sma100Bars,sma100Values),{stroke:"#ff3800",strokeWidth:3.4}),
    dataLine(series(sma50Bars,sma50Values),{stroke:"#6a6af5",strokeWidth:2.4}),
    dataLine(series(sma20Bars,sma20Values),{stroke:"#eeeeee",strokeWidth:1}),
    dataLine(series(sma10Bars,sma10Values),{stroke:"#a00808",strokeWidth:2.4}),

    Plot.text([{b:135,v:2073.37,t:"pebblewriter.com"},{b:137.8,v:2072.96,t:"USDJPY 5-min"}],{x:"b",y:"v",text:"t",textAnchor:"start",fill:"#fff",fontSize:21.6,fontFamily:"Liberation Mono",stroke:"#fff",strokeWidth:0.3}),
    tagsMark
  ]
});
document.getElementById("plotHost").appendChild(chart);
</script>
</body></html>
